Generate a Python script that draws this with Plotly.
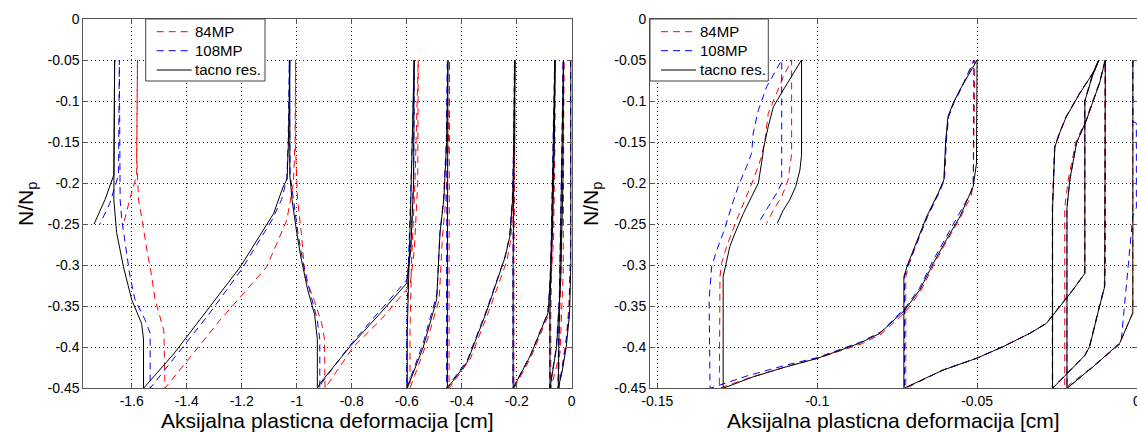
import plotly.graph_objects as go

# ---------------- data ----------------
series_names = ["84MP", "108MP", "tacno res."]

# Left panel
left_84MP_x = [-0.004, -0.004, -0.010, -0.020, -0.035, -0.046,
               -0.046, -0.036, -0.028,
               -0.030, -0.031, -0.0425, -0.076,
               -0.076, -0.070, -0.062, -0.059,
               -0.061, -0.066, -0.078, -0.084, -0.148, -0.210,
               -0.210, -0.207, -0.205,
               -0.207, -0.212, -0.222, -0.236, -0.300, -0.370, -0.446,
               -0.446, -0.444,
               -0.448, -0.458, -0.470, -0.482, -0.533, -0.588,
               -0.588, -0.583, -0.570, -0.558,
               -0.560, -0.572, -0.588, -0.690, -0.795, -0.897,
               -0.899, -0.909, -0.936, -0.970, -0.983, -0.997, -1.004, -1.004,
               -1.006, -1.012, -1.036, -1.109, -1.279, -1.479,
               -1.483, -1.497, -1.515, -1.527, -1.545, -1.564, -1.575, -1.582, -1.579,
               -1.582, -1.608, -1.629]
left_84MP_y = [-0.05, -0.28, -0.35, -0.39, -0.425, -0.45,
               -0.40, -0.25, -0.05,
               -0.20, -0.31, -0.407, -0.45,
               -0.36, -0.25, -0.12, -0.05,
               -0.15, -0.27, -0.33, -0.36, -0.412, -0.45,
               -0.30, -0.15, -0.05,
               -0.15, -0.22, -0.27, -0.295, -0.355, -0.415, -0.45,
               -0.30, -0.05,
               -0.15, -0.22, -0.265, -0.342, -0.40, -0.45,
               -0.38, -0.30, -0.20, -0.05,
               -0.20, -0.28, -0.325, -0.365, -0.40, -0.45,
               -0.39, -0.371, -0.343, -0.314, -0.261, -0.22, -0.16, -0.05,
               -0.15, -0.20, -0.245, -0.302, -0.367, -0.45,
               -0.38, -0.363, -0.342, -0.314, -0.281, -0.241, -0.221, -0.168, -0.05,
               -0.19, -0.221, -0.249]

left_108MP_x = [-0.004, -0.004, -0.010, -0.022, -0.037, -0.050,
                -0.048, -0.041, -0.031,
                -0.033, -0.041, -0.056, -0.080,
                -0.080, -0.073, -0.065, -0.062,
                -0.064, -0.071, -0.081, -0.087, -0.151, -0.214,
                -0.214, -0.211, -0.208,
                -0.211, -0.216, -0.226, -0.243, -0.310, -0.380, -0.455,
                -0.455, -0.452,
                -0.456, -0.466, -0.479, -0.490, -0.540, -0.600,
                -0.600, -0.596, -0.586, -0.572,
                -0.575, -0.586, -0.600, -0.700, -0.805, -0.908, -0.916,
                -0.916, -0.926, -0.950, -0.978, -0.995, -1.012, -1.024, -1.027,
                -1.031, -1.036, -1.055, -1.090, -1.200, -1.320, -1.440, -1.533,
                -1.533, -1.551, -1.588, -1.606, -1.625, -1.636, -1.642, -1.645,
                -1.648, -1.680, -1.716]
left_108MP_y = [-0.05, -0.30, -0.36, -0.40, -0.43, -0.45,
                -0.40, -0.25, -0.05,
                -0.20, -0.32, -0.40, -0.45,
                -0.36, -0.25, -0.12, -0.05,
                -0.15, -0.26, -0.33, -0.358, -0.41, -0.45,
                -0.30, -0.15, -0.05,
                -0.15, -0.22, -0.265, -0.29, -0.355, -0.416, -0.45,
                -0.30, -0.05,
                -0.15, -0.22, -0.26, -0.335, -0.395, -0.45,
                -0.38, -0.32, -0.22, -0.05,
                -0.20, -0.28, -0.318, -0.357, -0.397, -0.443, -0.45,
                -0.39, -0.365, -0.335, -0.295, -0.262, -0.222, -0.19, -0.05,
                -0.15, -0.195, -0.22, -0.245, -0.305, -0.36, -0.41, -0.45,
                -0.383, -0.367, -0.342, -0.314, -0.27, -0.245, -0.22, -0.05,
                -0.19, -0.225, -0.25]

left_tacno_x = [-0.003, -0.003, -0.008, -0.020, -0.035, -0.049,
                -0.047, -0.040, -0.030,
                -0.032, -0.040, -0.055, -0.079,
                -0.079, -0.072, -0.064, -0.061,
                -0.063, -0.070, -0.080, -0.086, -0.150, -0.213,
                -0.213, -0.210, -0.207,
                -0.210, -0.215, -0.225, -0.242, -0.310, -0.380, -0.452,
                -0.452, -0.450,
                -0.455, -0.465, -0.479, -0.491, -0.540, -0.598,
                -0.598, -0.594, -0.585, -0.573,
                -0.575, -0.585, -0.600, -0.700, -0.806, -0.915, -0.925,
                -0.925, -0.935, -0.960, -0.985, -1.000, -1.017, -1.025, -1.025,
                -1.030, -1.035, -1.050, -1.084, -1.205, -1.326, -1.447, -1.557,
                -1.557, -1.564, -1.600, -1.630, -1.655, -1.665, -1.662,
                -1.665, -1.697, -1.737]
left_tacno_y = [-0.05, -0.30, -0.36, -0.40, -0.43, -0.45,
                -0.40, -0.25, -0.05,
                -0.20, -0.32, -0.40, -0.45,
                -0.36, -0.25, -0.12, -0.05,
                -0.15, -0.26, -0.33, -0.358, -0.41, -0.45,
                -0.30, -0.15, -0.05,
                -0.15, -0.22, -0.265, -0.29, -0.357, -0.418, -0.45,
                -0.30, -0.05,
                -0.15, -0.22, -0.261, -0.342, -0.40, -0.45,
                -0.38, -0.32, -0.22, -0.05,
                -0.20, -0.28, -0.322, -0.36, -0.399, -0.444, -0.45,
                -0.39, -0.36, -0.33, -0.29, -0.26, -0.22, -0.19, -0.05,
                -0.15, -0.195, -0.205, -0.237, -0.302, -0.355, -0.408, -0.45,
                -0.39, -0.371, -0.342, -0.302, -0.26, -0.22, -0.05,
                -0.19, -0.22, -0.25]

# Right panel
right_tacno_x = [-0.0013, -0.0013, -0.0054, -0.0138, -0.0219,
                 -0.0219, -0.0210, -0.0189, -0.0158, -0.0117, -0.0099,
                 -0.0099, -0.0101, -0.0117, -0.0148, -0.0163, -0.0264,
                 -0.0264, -0.0257, -0.0242, -0.0221, -0.0179, -0.0138, -0.0119,
                 -0.0140, -0.0163, -0.0163, -0.0200, -0.0242, -0.0283, -0.0335, -0.0419, -0.0502, -0.0606, -0.0729,
                 -0.0729, -0.0716, -0.0695, -0.0658, -0.0622, -0.0604, -0.0598, -0.0591, -0.0575, -0.0554, -0.0500,
                 -0.0502, -0.0512, -0.0554, -0.0596, -0.0637, -0.0679, -0.0726, -0.0804, -0.0867, -0.0999, -0.1096, -0.1200, -0.1294,
                 -0.1294, -0.1285, -0.1273, -0.1257, -0.1231, -0.1205, -0.1184, -0.1171, -0.1167, -0.1153, -0.1137, -0.1106, -0.1075, -0.1049,
                 -0.1049, -0.1054, -0.1067, -0.1086, -0.1106, -0.1125]
right_tacno_y = [-0.05, -0.358, -0.395, -0.424, -0.45,
                 -0.23, -0.196, -0.151, -0.123, -0.078, -0.05,
                 -0.298, -0.326, -0.35, -0.399, -0.41, -0.45,
                 -0.23, -0.156, -0.139, -0.119, -0.0906, -0.066, -0.05,
                 -0.07, -0.10, -0.31, -0.33, -0.3505, -0.3708, -0.383, -0.3993, -0.4135, -0.4277, -0.45,
                 -0.314, -0.298, -0.277, -0.241, -0.2124, -0.196, -0.1474, -0.119, -0.1027, -0.0865, -0.05,
                 -0.176, -0.204, -0.241, -0.269, -0.2977, -0.33, -0.3546, -0.383, -0.395, -0.4135, -0.4237, -0.436, -0.45,
                 -0.314, -0.298, -0.277, -0.261, -0.237, -0.2165, -0.20, -0.168, -0.156, -0.131, -0.107, -0.0865, -0.066, -0.05,
                 -0.166, -0.184, -0.204, -0.2205, -0.233, -0.249]

right_84MP_x = [-0.0013, -0.0013, -0.0054, -0.0140, -0.0226,
                -0.0226, -0.0215, -0.0192, -0.0160, -0.0118, -0.0100,
                -0.0100, -0.0102, -0.0118, -0.0149, -0.0164, -0.0265,
                -0.0265, -0.0258, -0.0243, -0.0222, -0.0180, -0.0139, -0.0120,
                -0.0141, -0.0164, -0.0164, -0.0201, -0.0243, -0.0284, -0.0336, -0.0420, -0.0503, -0.0607, -0.0723,
                -0.0723, -0.0712, -0.0692, -0.0655, -0.0620, -0.0603, -0.0597, -0.0590, -0.0574, -0.0553, -0.0507,
                -0.0512, -0.0518, -0.0556, -0.0597, -0.0636, -0.0677, -0.0722, -0.0800, -0.0862, -0.0999, -0.1100, -0.1210, -0.1306,
                -0.1304, -0.1299, -0.1283, -0.1252, -0.1226, -0.1200, -0.1174, -0.1163, -0.1153, -0.1132, -0.1106, -0.1080,
                -0.1080, -0.1091, -0.1111, -0.1137, -0.1158]
right_84MP_y = [-0.05, -0.358, -0.395, -0.424, -0.45,
                -0.23, -0.196, -0.151, -0.123, -0.078, -0.05,
                -0.298, -0.326, -0.35, -0.399, -0.41, -0.45,
                -0.23, -0.156, -0.139, -0.119, -0.0906, -0.066, -0.05,
                -0.07, -0.10, -0.31, -0.33, -0.3505, -0.3708, -0.383, -0.3993, -0.4135, -0.4277, -0.45,
                -0.314, -0.298, -0.277, -0.241, -0.2124, -0.196, -0.1474, -0.119, -0.1027, -0.0865, -0.05,
                -0.20, -0.215, -0.245, -0.272, -0.300, -0.332, -0.356, -0.384, -0.396, -0.4135, -0.424, -0.437, -0.45,
                -0.314, -0.298, -0.277, -0.245, -0.2205, -0.196, -0.168, -0.147, -0.115, -0.0947, -0.0703, -0.05,
                -0.165, -0.196, -0.2165, -0.233, -0.249]

right_108MP_x = [-0.0013, -0.0013, -0.0002, -0.0002, -0.0013, -0.0050, -0.0138, -0.0219,
                 -0.0219, -0.0210, -0.0189, -0.0158, -0.0117, -0.0099,
                 -0.0099, -0.0101, -0.0117, -0.0148, -0.0163, -0.0264,
                 -0.0264, -0.0257, -0.0242, -0.0221, -0.0179, -0.0138, -0.0119,
                 -0.0140, -0.0163, -0.0163, -0.0200, -0.0242, -0.0283, -0.0335, -0.0419, -0.0502, -0.0606, -0.0727,
                 -0.0727, -0.0714, -0.0693, -0.0656, -0.0620, -0.0602, -0.0596, -0.0589, -0.0573, -0.0552, -0.0510,
                 -0.0512, -0.0520, -0.0560, -0.0600, -0.0640, -0.0680, -0.0725, -0.0800, -0.0860, -0.0999, -0.1100, -0.1220, -0.1335,
                 -0.1338, -0.1330, -0.1314, -0.1294, -0.1268, -0.1247, -0.1221, -0.1205, -0.1200, -0.1184, -0.1158, -0.1127, -0.1111,
                 -0.1111, -0.1127, -0.1153, -0.1184]
right_108MP_y = [-0.05, -0.125, -0.127, -0.23, -0.24, -0.395, -0.424, -0.45,
                 -0.23, -0.196, -0.151, -0.123, -0.078, -0.05,
                 -0.298, -0.326, -0.35, -0.399, -0.41, -0.45,
                 -0.23, -0.156, -0.139, -0.119, -0.0906, -0.066, -0.05,
                 -0.07, -0.10, -0.31, -0.33, -0.3505, -0.3708, -0.383, -0.3993, -0.4135, -0.4277, -0.45,
                 -0.314, -0.298, -0.277, -0.241, -0.2124, -0.196, -0.1474, -0.119, -0.1027, -0.0865, -0.05,
                 -0.20, -0.212, -0.24, -0.268, -0.296, -0.328, -0.352, -0.381, -0.393, -0.4125, -0.422, -0.435, -0.45,
                 -0.342, -0.302, -0.2815, -0.261, -0.2287, -0.204, -0.18, -0.1637, -0.139, -0.111, -0.0825, -0.0621, -0.05,
                 -0.20, -0.2124, -0.2287, -0.249]

left_xtick_vals = [-1.6, -1.4, -1.2, -1.0, -0.8, -0.6, -0.4, -0.2, 0.0]
left_xtick_text = ["-1.6", "-1.4", "-1.2", "-1", "-0.8", "-0.6", "-0.4", "-0.2", "0"]
right_xtick_vals = [-0.15, -0.10, -0.05, 0.0]
right_xtick_text = ["-0.15", "-0.1", "-0.05", "0"]
ytick_vals = [0, -0.05, -0.1, -0.15, -0.2, -0.25, -0.3, -0.35, -0.4, -0.45]
ytick_text = ["0", "-0.05", "-0.1", "-0.15", "-0.2", "-0.25", "-0.3", "-0.35", "-0.4", "-0.45"]

x_title = "Aksijalna plasticna deformacija [cm]"
y_title = "N/N<sub>p</sub>"

# ---------------- figure ----------------
W, H = 1137, 432
FONT = "Arial, 'Liberation Sans', Helvetica, sans-serif"
colors = {"84MP": "#ff0000", "108MP": "#0000ff", "tacno res.": "#000000"}
dashes = {"84MP": "7px,5px", "108MP": "7px,5px", "tacno res.": "solid"}

fig = go.Figure()

panels = [
    ("x", "y", [left_84MP_x, left_108MP_x, left_tacno_x], [left_84MP_y, left_108MP_y, left_tacno_y]),
    ("x2", "y2", [right_84MP_x, right_108MP_x, right_tacno_x], [right_84MP_y, right_108MP_y, right_tacno_y]),
]
for xa, ya, xs, ys in panels:
    for name, xv, yv in zip(series_names, xs, ys):
        fig.add_trace(go.Scatter(
            x=xv, y=yv, mode="lines", name=name, xaxis=xa, yaxis=ya, showlegend=False,
            line=dict(color=colors[name], width=1, dash=dashes[name]),
            hoverinfo="skip",
        ))

ydom = [43.7 / H, 413 / H]
axis_common = dict(
    showline=True, linecolor="#555555", linewidth=1, mirror="ticks",
    ticks="inside", ticklen=5, tickcolor="#555555", automargin=False,
    showgrid=True, gridcolor="#222222", griddash="1px,3px", gridwidth=1,
    zeroline=False, tickfont=dict(family=FONT, size=14, color="#000000"),
)

fig.update_layout(
    width=W, height=H,
    margin=dict(l=0, r=0, t=0, b=0, pad=0),
    paper_bgcolor="white", plot_bgcolor="white",
    font=dict(family=FONT, size=14, color="#000000"),
    xaxis=dict(domain=[83.3 / W, 571.7 / W], range=[-1.776, 0], anchor="y",
               tickvals=left_xtick_vals, ticktext=left_xtick_text, **axis_common),
    yaxis=dict(domain=ydom, range=[-0.45, 0], anchor="x",
               tickvals=ytick_vals, ticktext=ytick_text, **axis_common),
    xaxis2=dict(domain=[650 / W, 1.0], range=[-0.15228, 0.0], anchor="y2",
                ticklabeloverflow="allow",
                tickvals=right_xtick_vals, ticktext=right_xtick_text, **axis_common),
    yaxis2=dict(domain=ydom, range=[-0.45, 0], anchor="x2",
                tickvals=ytick_vals, ticktext=ytick_text, **axis_common),
    showlegend=False,
)

# axis titles
annots = [
    dict(text=x_title, x=327.5 / W, y=1 - 420 / H),
    dict(text=x_title, x=893.5 / W, y=1 - 420 / H),
    dict(text=y_title, x=27 / W, y=1 - 204 / H, textangle=-90),
    dict(text=y_title, x=592 / W, y=1 - 204 / H, textangle=-90),
]
for a in annots:
    fig.add_annotation(xref="paper", yref="paper", showarrow=False,
                       xanchor="center", yanchor="middle",
                       font=dict(family=FONT, size=21, color="#000000"), **a)

# legends (one per panel), drawn as box + line samples + text
legend_left_px = [145.7, 650.0]
legend_box_w = [119.3, 118.3]
legend_rows_py = [31.7, 50.7, 70.0]
for lx, bw in zip(legend_left_px, legend_box_w):
    fig.add_shape(type="rect", xref="paper", yref="paper",
                  x0=lx / W, x1=(lx + bw) / W, y0=1 - 81 / H, y1=1 - 19 / H,
                  line=dict(color="#444444", width=1), fillcolor="white", layer="above")
    for name, ry in zip(series_names, legend_rows_py):
        fig.add_shape(type="line", xref="paper", yref="paper",
                      x0=(lx + 11) / W, x1=(lx + 46) / W, y0=1 - ry / H, y1=1 - ry / H,
                      line=dict(color=colors[name], width=1, dash=dashes[name]), layer="above")
        fig.add_annotation(xref="paper", yref="paper", showarrow=False,
                           x=(lx + 47.5) / W, y=1 - ry / H, xanchor="left", yanchor="middle",
                           text=name, font=dict(family=FONT, size=15, color="#000000"))

fig.write_html("out.html", config={"displayModeBar": False},
               post_script="document.body.style.margin='0px';")
